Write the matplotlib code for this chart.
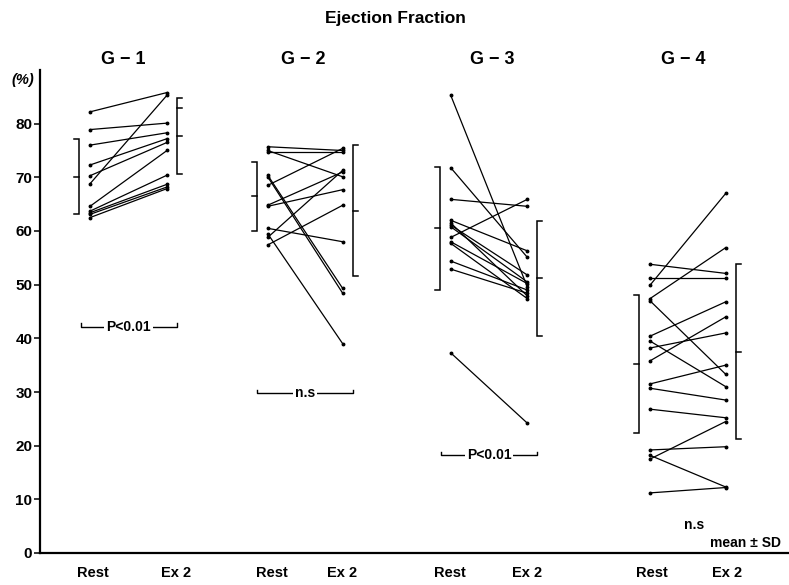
import numpy as np
import matplotlib.pyplot as plt

plt.rcParams['font.family'] = ['Liberation Sans', 'DejaVu Sans']

# groups and conditions
groups = ["G − 1", "G − 2", "G − 3", "G − 4"]
conditions = ["Rest", "Ex 2"]

# individual ejection fraction (%) at rest and at exercise stage 2
g1_rest = [82.2, 78.9, 76.0, 72.3, 70.3, 68.8, 64.6, 63.7, 63.4, 63.1, 62.5]
g1_ex = [85.8, 80.1, 78.3, 77.2, 76.5, 85.3, 75.0, 70.4, 68.7, 68.2, 67.9]

g2_rest = [75.7, 75.0, 74.7, 68.5, 70.4, 70.1, 64.8, 64.6, 60.5, 59.5, 58.8, 57.4]
g2_ex = [75.0, 70.1, 74.7, 75.4, 49.3, 48.4, 71.0, 67.7, 58.0, 39.0, 71.3, 64.8]

g3_rest = [85.3, 71.8, 65.9, 62.0, 61.5, 61.1, 60.8, 58.8, 58.0, 57.7, 54.4, 52.9, 37.3]
g3_ex = [49.6, 55.1, 64.6, 56.3, 47.9, 51.8, 50.5, 65.9, 50.2, 47.4, 49.0, 48.4, 24.2]

g4_rest = [53.8, 51.3, 49.9, 47.4, 47.0, 40.4, 39.5, 38.2, 35.8, 31.5, 30.7, 26.8,
           19.2, 18.2, 17.5, 11.2]
g4_ex = [52.1, 51.3, 67.0, 56.9, 33.3, 46.8, 31.0, 41.0, 44.0, 35.0, 28.5, 25.2,
         19.8, 12.3, 24.5, 12.2]

rest_vals = [g1_rest, g2_rest, g3_rest, g4_rest]
ex_vals = [g1_ex, g2_ex, g3_ex, g4_ex]

# mean +- SD
rest_mean = [70.1, 66.5, 60.5, 35.2]
rest_sd = [7.0, 6.45, 11.45, 12.8]
ex_mean = [77.7, 63.8, 51.2, 37.5]
ex_sd = [7.0, 12.2, 10.75, 16.3]

tests = ["P<0.01", "n.s", "P<0.01", "n.s"]

# layout (x in pixel-like units from the y axis)
rest_x = [50, 227.7, 410.7, 610]
ex_x = [127, 302.7, 487.3, 685.7]
rest_lab_x = [52.6, 231.7, 409.9, 611.7]
ex_lab_x = [136, 302, 487, 687]
group_lab_x = [83, 263, 452, 643]
test_y = [42.2, 29.8, 18.2, 5.2]

fig = plt.figure(figsize=(7.89, 5.85), dpi=100)
ax = fig.add_axes([40 / 789, 32 / 585, 749 / 789, 483 / 585])
ax.set_xlim(0, 749)
ax.set_ylim(0, 90)

for i in range(4):
    for r, e in zip(rest_vals[i], ex_vals[i]):
        ax.plot([rest_x[i], ex_x[i]], [r, e], color='k', lw=0.9,
                marker='o', ms=1.8, mfc='k', mec='k')


def sd_bar(x, m, s, side, extra=None):
    w = 5
    ax.plot([x + side * w, x, x, x + side * w], [m - s, m - s, m + s, m + s],
            color='k', lw=1.1, solid_joinstyle='miter')
    ticks = [m] + ([] if extra is None else [extra])
    for t in ticks:
        ax.plot([x, x + side * w], [t, t], color='k', lw=1.1)


for i in range(4):
    sd_bar(rest_x[i] - 11, rest_mean[i], rest_sd[i], -1)
    sd_bar(ex_x[i] + 10, ex_mean[i], ex_sd[i], 1,
           extra=82.9 if i == 0 else None)

# significance brackets
for i in range(4):
    mid = (rest_x[i] + ex_x[i]) / 2
    y = test_y[i]
    if i < 3:
        ax.plot([mid - 48, mid - 48, mid + 48, mid + 48],
                [y + 0.6, y, y, y + 0.6], color='k', lw=1.0)
        ax.text(mid, y, tests[i], ha='center', va='center', fontsize=10,
                fontweight='bold',
                bbox=dict(facecolor='white', edgecolor='none', pad=1.5))
    else:
        ax.text(mid + 6, y, tests[i], ha='center', va='center', fontsize=10,
                fontweight='bold')

ax.text(705, 1.9, "mean ± SD", ha='center', va='center', fontsize=10,
        fontweight='bold')

# axis labels
for i in range(4):
    ax.text(group_lab_x[i], 91.9, groups[i], ha='center', va='center',
            fontsize=13, fontweight='bold', clip_on=False)
    ax.text(rest_lab_x[i], -3.7, conditions[0], ha='center', va='center',
            fontsize=10.5, fontweight='bold', clip_on=False)
    ax.text(ex_lab_x[i], -3.7, conditions[1], ha='center', va='center',
            fontsize=10.5, fontweight='bold', clip_on=False)

ax.text(-6, 88.1, "(%)", ha='right', va='center', fontsize=10.5,
        fontweight='bold', style='italic', clip_on=False)

fig.text(395 / 789, 1 - 18 / 585, "Ejection Fraction", ha='center',
         va='center', fontsize=12.5, fontweight='bold')

ax.set_yticks(np.arange(0, 81, 10))
ax.set_yticklabels([str(v) for v in range(0, 81, 10)], fontsize=11,
                   fontweight='bold')
ax.set_xticks([])
ax.tick_params(axis='y', direction='out', length=4.5, width=1.1, pad=1)
for s in ['top', 'right']:
    ax.spines[s].set_visible(False)
ax.spines['left'].set_linewidth(1.6)
ax.spines['bottom'].set_linewidth(1.6)

fig.savefig('out.png', dpi=100)
